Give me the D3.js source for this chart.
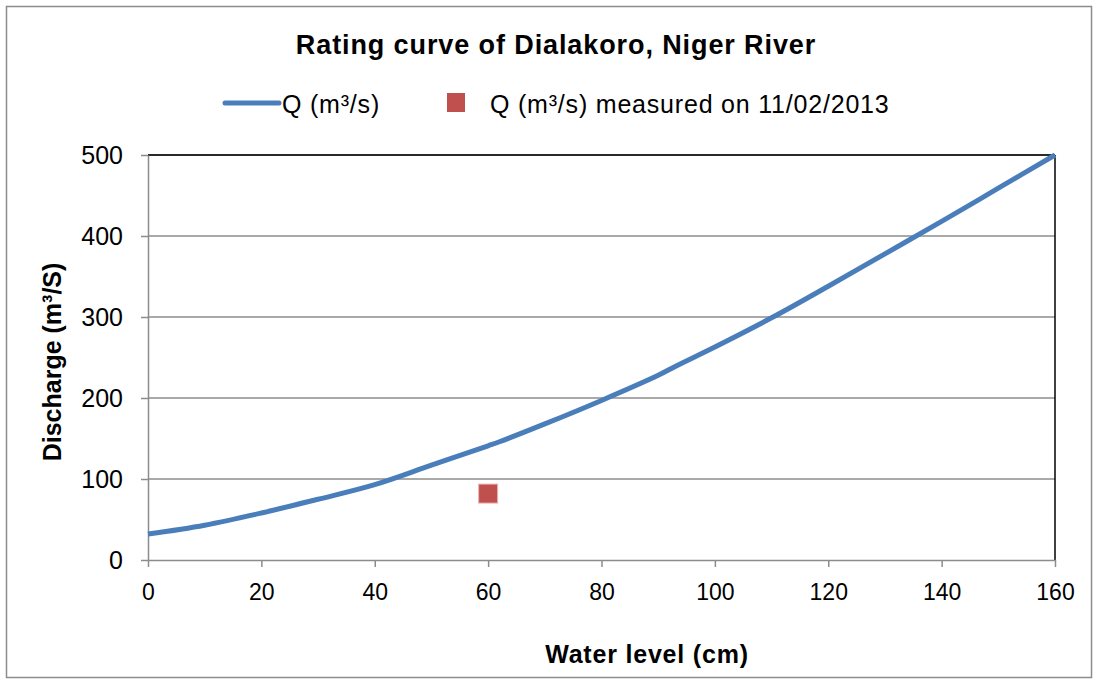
<!DOCTYPE html>
<html>
<head>
<meta charset="utf-8">
<script src="https://cdn.jsdelivr.net/npm/d3@7"></script>
<style>
  body { margin: 0; background: #fff; }
  text { font-family: "Liberation Sans", Arial, sans-serif; }
</style>
</head>
<body>
<svg id="chart"></svg>
<script>
// rating curve: water level (cm) -> discharge (m3/s)
const levels = [0, 10, 20, 30, 40, 50, 60, 62, 70, 80, 90, 93, 100, 110, 120, 130, 140, 150, 160];
const discharge = [32, 43, 58, 75, 93, 117, 141, 146, 168, 197, 228, 239, 263, 299, 338, 378, 418, 459, 500];
const measuredLevel = [60];
const measuredQ = [82];
const xTicks = [0, 20, 40, 60, 80, 100, 120, 140, 160];
const yTicks = [0, 100, 200, 300, 400, 500];

const W = 1096, H = 680;
const margin = { top: 155, right: 41, bottom: 120, left: 148 };
const iw = W - margin.left - margin.right;
const ih = H - margin.top - margin.bottom;

const svg = d3.select('#chart').attr('width', W).attr('height', H);

svg.append('rect')
    .attr('x', 6.5).attr('y', 6.5)
    .attr('width', W - 11).attr('height', H - 9)
    .attr('fill', '#fff').attr('stroke', '#8c8c8c').attr('stroke-width', 1.5);

const chart = svg.append('g').attr('transform', `translate(${margin.left},${margin.top})`);

const x = d3.scaleLinear().domain([0, 160]).range([0, iw]);
const y = d3.scaleLinear().domain([0, 500]).range([ih, 0]);

// gridlines
chart.append('g').selectAll('line')
    .data(yTicks.filter(d => d > 0))
    .join('line')
    .attr('x1', 0).attr('x2', iw)
    .attr('y1', d => y(d)).attr('y2', d => y(d))
    .attr('stroke', '#8c8c8c').attr('stroke-width', 1.5);

// plot frame: top and right dark
chart.append('line').attr('x1', 0).attr('x2', iw).attr('y1', 0).attr('y2', 0)
    .attr('stroke', '#000').attr('stroke-width', 1.5);
chart.append('line').attr('x1', iw).attr('x2', iw).attr('y1', 0).attr('y2', ih)
    .attr('stroke', '#000').attr('stroke-width', 1.5);

const xAxis = d3.axisBottom(x).tickValues(xTicks).tickSize(7).tickSizeOuter(0).tickPadding(17);
const yAxis = d3.axisLeft(y).tickValues(yTicks).tickSize(7).tickSizeOuter(0).tickPadding(18);

const gx = chart.append('g').attr('transform', `translate(0,${ih})`).call(xAxis);
const gy = chart.append('g').call(yAxis);

[gx, gy].forEach(g => {
    g.selectAll('path, line').attr('stroke', '#8c8c8c').attr('stroke-width', 1.5);
    g.selectAll('text').attr('fill', '#000')
        .style('font-family', '"Liberation Sans", Arial, sans-serif');
});
gy.selectAll('text').attr('font-size', 25);
gx.selectAll('text').attr('font-size', 23);

// curve
const pts = levels.map((d, i) => [d, discharge[i]]);
chart.append('path')
    .datum(pts)
    .attr('fill', 'none')
    .attr('stroke', '#4a7ebb')
    .attr('stroke-width', 5)
    .attr('d', d3.line().x(d => x(d[0])).y(d => y(d[1])).curve(d3.curveCatmullRom.alpha(0.5)));

// measured point
const sq = 19;
chart.selectAll('rect.pt')
    .data(measuredLevel.map((d, i) => [d, measuredQ[i]]))
    .join('rect')
    .attr('class', 'pt')
    .attr('x', d => x(d[0]) - sq / 2)
    .attr('y', d => y(d[1]) - sq / 2)
    .attr('width', sq).attr('height', sq)
    .attr('fill', '#c0504d').attr('stroke', '#e8b5b3').attr('stroke-width', 1);

// title
svg.append('text')
    .attr('x', 556).attr('y', 54)
    .attr('text-anchor', 'middle')
    .attr('font-size', 27).attr('font-weight', 'bold')
    .attr('letter-spacing', 0.9)
    .text('Rating curve of Dialakoro, Niger River');

// legend
const leg = svg.append('g');
leg.append('line').attr('x1', 225).attr('x2', 279).attr('y1', 103).attr('y2', 103)
    .attr('stroke', '#4a7ebb').attr('stroke-width', 5).attr('stroke-linecap', 'round');
leg.append('text').attr('x', 282).attr('y', 113).attr('font-size', 25)
    .attr('letter-spacing', 0.8).text('Q (m³/s)');
leg.append('rect').attr('x', 447).attr('y', 93).attr('width', 18).attr('height', 19)
    .attr('fill', '#c0504d');
leg.append('text').attr('x', 490).attr('y', 113).attr('font-size', 25)
    .attr('letter-spacing', 0.8).text('Q (m³/s) measured on 11/02/2013');

// axis titles
svg.append('text')
    .attr('x', 647).attr('y', 663)
    .attr('text-anchor', 'middle')
    .attr('font-size', 25).attr('font-weight', 'bold')
    .attr('letter-spacing', 0.8)
    .text('Water level (cm)');

svg.append('text')
    .attr('transform', `translate(61,362) rotate(-90)`)
    .attr('text-anchor', 'middle')
    .attr('font-size', 25).attr('font-weight', 'bold')
    .text('Discharge (m³/S)');
</script>
</body>
</html>
